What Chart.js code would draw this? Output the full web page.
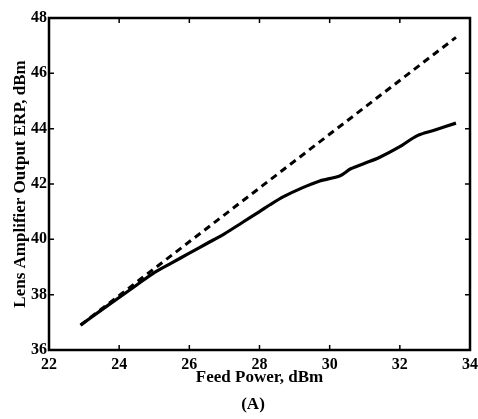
<!DOCTYPE html>
<html>
<head>
<meta charset="utf-8">
<script src="https://cdn.jsdelivr.net/npm/chart.js@4"></script>
<style>
  html, body { margin: 0; padding: 0; background: #fff; }
  #wrap { width: 478px; height: 419px; }
</style>
</head>
<body>
<div id="wrap"><canvas id="erpChart" width="478" height="419"></canvas></div>
<script>
// measured output (solid)
const feedPower = [22.9, 23.5, 24, 24.5, 25, 25.5, 26, 26.5, 27, 27.5, 28, 28.3, 28.7, 29.2, 29.7, 30.3, 30.6, 31, 31.4, 32, 32.5, 33, 33.6];
const outputErp = [36.9, 37.45, 37.9, 38.35, 38.8, 39.15, 39.5, 39.85, 40.2, 40.6, 41.0, 41.25, 41.55, 41.85, 42.1, 42.3, 42.55, 42.75, 42.95, 43.35, 43.75, 43.95, 44.2];
// linear (dashed)
const linearPower = [22.9, 33.6];
const linearErp = [36.9, 47.3];

const xTicks = [22, 24, 26, 28, 30, 32, 34];
const yTicks = [36, 38, 40, 42, 44, 46, 48];

const serif = "'Liberation Serif', 'DejaVu Serif', serif";

const toPoints = (xs, ys) => xs.map((x, i) => ({ x, y: ys[i] }));

// frame, inward ticks and the (A) caption
const framePlugin = {
    id: 'frame',
    afterDraw(chart) {
        const { ctx, chartArea: a, scales: { x, y } } = chart;
        ctx.save();
        ctx.strokeStyle = '#000';
        ctx.lineWidth = 1.5;
        xTicks.forEach(v => {
            const px = x.getPixelForValue(v);
            ctx.beginPath();
            ctx.moveTo(px, a.bottom); ctx.lineTo(px, a.bottom - 5);
            ctx.moveTo(px, a.top); ctx.lineTo(px, a.top + 5);
            ctx.stroke();
        });
        yTicks.forEach(v => {
            const py = y.getPixelForValue(v);
            ctx.beginPath();
            ctx.moveTo(a.left, py); ctx.lineTo(a.left + 5, py);
            ctx.moveTo(a.right, py); ctx.lineTo(a.right - 5, py);
            ctx.stroke();
        });
        ctx.lineWidth = 2.5;
        ctx.strokeRect(a.left, a.top, a.right - a.left, a.bottom - a.top);
        ctx.fillStyle = '#000';
        ctx.font = "bold 17px " + serif;
        ctx.textAlign = 'center';
        ctx.textBaseline = 'middle';
        ctx.fillText('(A)', 253, 405);
        ctx.restore();
    }
};

new Chart(document.getElementById('erpChart'), {
    type: 'scatter',
    data: {
        datasets: [
            {
                label: 'Linear',
                data: toPoints(linearPower, linearErp),
                showLine: true,
                borderColor: '#000',
                borderWidth: 3,
                borderDash: [7, 5],
                pointRadius: 0
            },
            {
                label: 'Output ERP',
                data: toPoints(feedPower, outputErp),
                showLine: true,
                borderColor: '#000',
                borderWidth: 3.2,
                pointRadius: 0,
                tension: 0.3
            }
        ]
    },
    options: {
        responsive: false,
        animation: false,
        layout: { padding: { top: 18, right: 0, left: 0, bottom: 0 } },
        plugins: { legend: { display: false }, tooltip: { enabled: false } },
        scales: {
            x: {
                type: 'linear',
                min: 22, max: 34,
                afterBuildTicks: s => { s.ticks = xTicks.map(v => ({ value: v })); },
                afterFit: s => { s.height = 69; s.paddingLeft = 0; s.paddingRight = 8; },
                grid: { display: false, drawTicks: false },
                border: { display: false },
                ticks: { color: '#000', padding: 5, maxRotation: 0, font: { family: serif, size: 16, weight: 'bold' } },
                title: { display: true, text: 'Feed Power, dBm', color: '#000', padding: { bottom: 31 }, font: { family: serif, size: 17, weight: 'bold' } }
            },
            y: {
                type: 'linear',
                min: 36, max: 48,
                afterBuildTicks: s => { s.ticks = yTicks.map(v => ({ value: v })); },
                afterFit: s => { s.width = 49; },
                grid: { display: false, drawTicks: false },
                border: { display: false },
                ticks: { color: '#000', padding: 2, font: { family: serif, size: 16, weight: 'bold' } },
                title: { display: true, text: 'Lens Amplifier Output ERP, dBm', color: '#000', padding: { top: 10 }, font: { family: serif, size: 17, weight: 'bold' } }
            }
        }
    },
    plugins: [framePlugin]
});
</script>
</body>
</html>
